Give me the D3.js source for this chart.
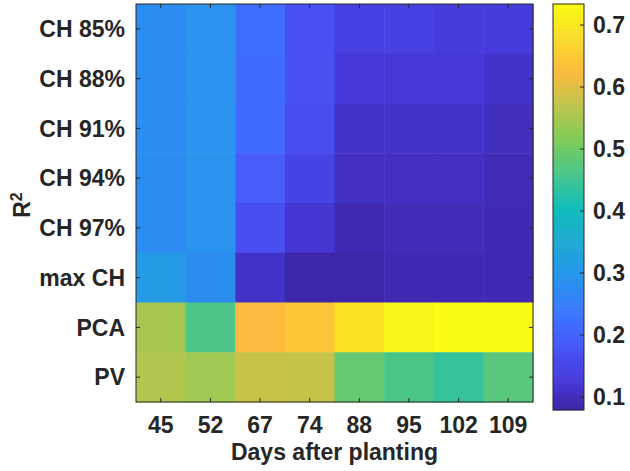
<!DOCTYPE html>
<html>
<head>
<meta charset="utf-8">
<style>
  body { margin: 0; background: #fff; }
  text { font-family: "Liberation Sans", Arial, sans-serif; font-weight: bold; fill: #262626; }
</style>
</head>
<body>
<svg id="chart"></svg>

<script src="https://cdnjs.cloudflare.com/ajax/libs/d3/7.8.5/d3.min.js"></script>
<script>
// columns and rows
const days = ["45", "52", "67", "74", "88", "95", "102", "109"];
const metrics = ["CH 85%", "CH 88%", "CH 91%", "CH 94%", "CH 97%", "max CH", "PCA", "PV"];

// R2 values, one array per row
const ch85  = [0.280, 0.292, 0.221, 0.173, 0.143, 0.143, 0.134, 0.134];
const ch88  = [0.280, 0.292, 0.220, 0.172, 0.126, 0.126, 0.126, 0.112];
const ch91  = [0.280, 0.292, 0.213, 0.166, 0.112, 0.112, 0.112, 0.101];
const ch94  = [0.280, 0.292, 0.190, 0.148, 0.105, 0.105, 0.105, 0.095];
const ch97  = [0.280, 0.292, 0.166, 0.122, 0.089, 0.097, 0.097, 0.093];
const maxCH = [0.308, 0.282, 0.110, 0.079, 0.080, 0.090, 0.090, 0.090];
const pca   = [0.548, 0.465, 0.625, 0.643, 0.693, 0.724, 0.734, 0.734];
const pv    = [0.557, 0.543, 0.579, 0.576, 0.489, 0.462, 0.440, 0.476];

const cbTicks = [0.1, 0.2, 0.3, 0.4, 0.5, 0.6, 0.7];

const rows = [ch85, ch88, ch91, ch94, ch97, maxCH, pca, pv];

// parula-like colormap stops (t in 0..1)
const parulaT = [0, 0.078, 0.125, 0.167, 0.23, 0.333, 0.5, 0.667, 0.833, 1];
const parulaC = ["#3e26a8", "#463adc", "#484bee", "#475bf9", "#3b73ff", "#2796eb",
                 "#12beb9", "#81cc59", "#fcbb3e", "#f9fb15"];

const width = 630, height = 471;
const plot = { left: 136, right: 533, top: 4, bottom: 402 };
const cb = { left: 553, right: 584, top: 4, bottom: 410 };
const fs = "23px";

const svg = d3.select("#chart").attr("width", width).attr("height", height);

const cells = [];
rows.forEach(function (r, i) {
  r.forEach(function (v, j) { cells.push({ row: metrics[i], col: days[j], v: v }); });
});

const clim = d3.extent(cells, d => d.v);

const color = d3.scaleLinear()
  .domain(parulaT.map(t => clim[0] + t * (clim[1] - clim[0])))
  .range(parulaC)
  .interpolate(d3.interpolateRgb)
  .clamp(true);

const x = d3.scaleBand().domain(days).range([plot.left, plot.right]);
const y = d3.scaleBand().domain(metrics).range([plot.top, plot.bottom]);

svg.append("g").selectAll("rect")
  .data(cells)
  .enter()
  .append("rect")
  .attr("x", d => x(d.col))
  .attr("y", d => y(d.row))
  .attr("width", x.bandwidth() + 0.5)
  .attr("height", y.bandwidth() + 0.5)
  .attr("fill", d => color(d.v));

// ticks inside on all four sides, like a boxed matlab axes
const tk = 4;
const axisColor = "#262626";
const g = svg.append("g").attr("stroke", axisColor).attr("stroke-width", 1);
days.forEach(function (d) {
  const cx = x(d) + x.bandwidth() / 2;
  g.append("line").attr("x1", cx).attr("x2", cx).attr("y1", plot.bottom).attr("y2", plot.bottom - tk);
  g.append("line").attr("x1", cx).attr("x2", cx).attr("y1", plot.top).attr("y2", plot.top + tk);
});
metrics.forEach(function (m) {
  const cy = y(m) + y.bandwidth() / 2;
  g.append("line").attr("x1", plot.left).attr("x2", plot.left + tk).attr("y1", cy).attr("y2", cy);
  g.append("line").attr("x1", plot.right).attr("x2", plot.right - tk).attr("y1", cy).attr("y2", cy);
});
svg.append("rect")
  .attr("x", plot.left).attr("y", plot.top)
  .attr("width", plot.right - plot.left).attr("height", plot.bottom - plot.top)
  .attr("fill", "none").attr("stroke", axisColor).attr("stroke-width", 1);

// tick labels
svg.append("g").selectAll("text")
  .data(days).enter().append("text")
  .attr("x", d => x(d) + x.bandwidth() / 2)
  .attr("y", 433)
  .attr("text-anchor", "middle")
  .style("font-size", fs)
  .text(d => d);

svg.append("g").selectAll("text")
  .data(metrics).enter().append("text")
  .attr("x", 125)
  .attr("y", d => y(d) + y.bandwidth() / 2)
  .attr("dy", "0.36em")
  .attr("text-anchor", "end")
  .style("font-size", fs)
  .text(d => d);

// axis titles
svg.append("text")
  .attr("x", (plot.left + plot.right) / 2)
  .attr("y", 460)
  .attr("text-anchor", "middle")
  .style("font-size", fs)
  .text("Days after planting");

const yl = svg.append("text")
  .attr("transform", "translate(30," + ((plot.top + plot.bottom) / 2 + 2) + ") rotate(-90)")
  .attr("text-anchor", "middle")
  .style("font-size", fs);
yl.append("tspan").text("R");
yl.append("tspan").attr("dy", "-0.5em").style("font-size", "16px").text("2");

// colorbar
const cbY = d3.scaleLinear().domain(clim).range([cb.bottom, cb.top]);
const nStrips = 200;
const strips = d3.range(nStrips).map(i => clim[0] + (i + 0.5) * (clim[1] - clim[0]) / nStrips);
const stripH = (cb.bottom - cb.top) / nStrips;
svg.append("g").selectAll("rect")
  .data(strips).enter().append("rect")
  .attr("x", cb.left)
  .attr("width", cb.right - cb.left)
  .attr("y", d => cbY(d) - stripH / 2 - 0.3)
  .attr("height", stripH + 0.6)
  .attr("fill", d => color(d));

const cbg = svg.append("g").attr("stroke", axisColor);
cbTicks.forEach(function (t) {
  cbg.append("line").attr("x1", cb.right).attr("x2", cb.right - tk)
    .attr("y1", cbY(t)).attr("y2", cbY(t));
});
svg.append("rect")
  .attr("x", cb.left).attr("y", cb.top)
  .attr("width", cb.right - cb.left).attr("height", cb.bottom - cb.top)
  .attr("fill", "none").attr("stroke", axisColor).attr("stroke-width", 1);

svg.append("g").selectAll("text")
  .data(cbTicks).enter().append("text")
  .attr("x", 593)
  .attr("y", d => cbY(d))
  .attr("dy", "0.36em")
  .style("font-size", fs)
  .text(d => d.toFixed(1));
</script>
</body>
</html>
